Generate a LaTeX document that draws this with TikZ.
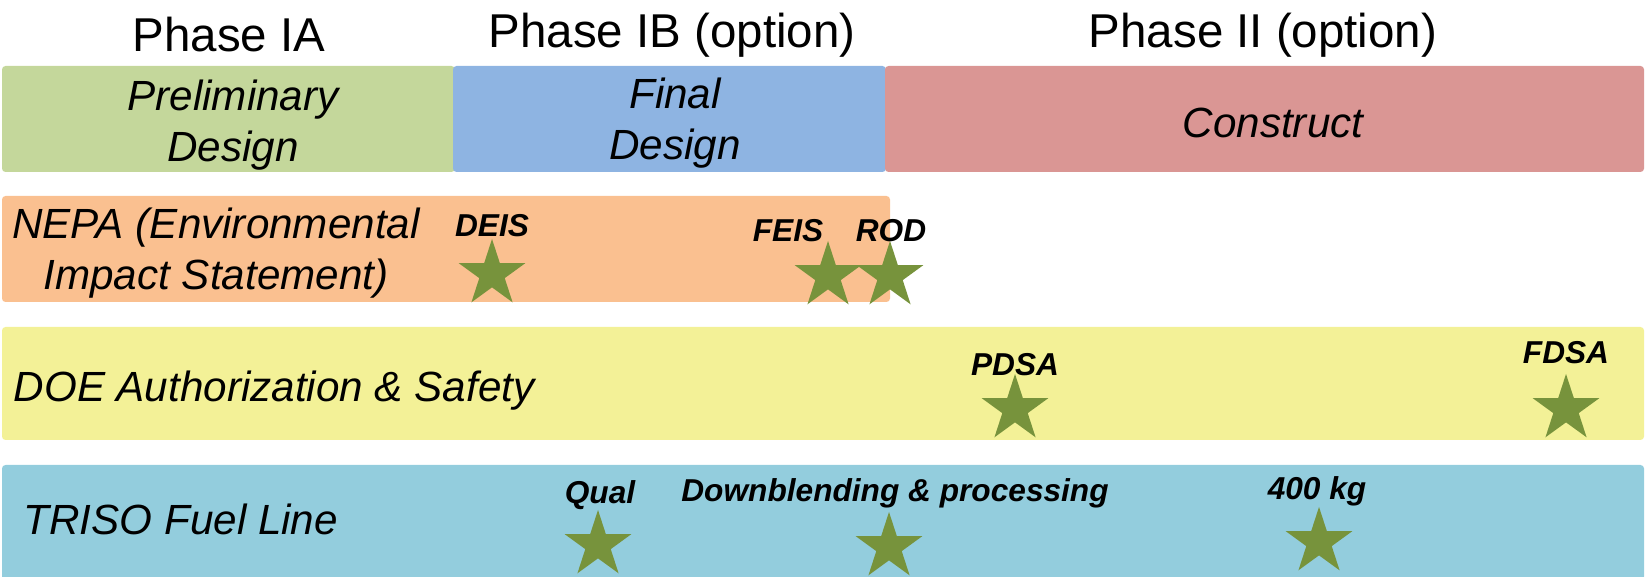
\documentclass[tikz,border=0pt]{standalone}
\usepackage{fontspec}
\setmainfont{Liberation Sans}
\usetikzlibrary{shapes.geometric,positioning}

\definecolor{prelimgreen}{HTML}{C4D79B}
\definecolor{finalblue}{HTML}{8EB4E2}
\definecolor{constructred}{HTML}{DA9694}
\definecolor{nepaorange}{HTML}{FAC090}
\definecolor{doeyellow}{HTML}{F3F197}
\definecolor{trisocyan}{HTML}{93CDDD}
\definecolor{stargreen}{HTML}{77933C}

\tikzset{
  bar/.style={rounded corners=1pt},
  phase/.style={font=\fontsize{13.5}{16}\selectfont},
  task/.style={font=\fontsize{12}{14.5}\selectfont\itshape, align=center},
  milestone/.style={star, star points=5, star point ratio=2.618, fill=stargreen,
    minimum size=0.7cm, inner sep=0pt},
  tag/.style={font=\fontsize{9}{11}\selectfont\bfseries\itshape},
}

\begin{document}
\begin{tikzpicture}[x=0.01cm,y=-0.01cm]
  \useasboundingbox (0,0) rectangle (1646,577);
  %phases
  \node[phase] (ph1) at (229,35) {Phase IA};
  \node[phase] (ph2) at (672,35) {Phase IB (option)};
  \node[phase] (ph3) at (1263,35) {Phase II (option)};

  %bars
  \fill[bar, prelimgreen] (2,66) rectangle (455,172);
  \fill[bar, finalblue] (453,66) rectangle (886,172);
  \fill[bar, constructred] (885,66) rectangle (1644,172);
  \fill[bar, nepaorange] (2,196) rectangle (890,302);
  \fill[bar, doeyellow] (2,327) rectangle (1644,440);
  \fill[bar, trisocyan] (2,465) rectangle (1644,580);

  %tasks
  \node[task] (prelim) at (233,125) {Preliminary\\Design};
  \node[task] (final) at (675,123) {Final\\Design};
  \node[task] (construct) at (1273,123) {Construct};
  \node[task] (nepa) at (216,253) {NEPA (Environmental\\Impact Statement)};
  \node[task, anchor=west, inner sep=0pt] (doe) at (13,391) {DOE Authorization \& Safety};
  \node[task, anchor=west, inner sep=0pt] (triso) at (23,519) {TRISO Fuel Line};

  %milestones
  \node[milestone] (deis) at (492,274) {};
  \node[milestone] (feis) at (828,276) {};
  \node[milestone] (rod) at (890,276) {};
  \node[milestone] (pdsa) at (1015,409) {};
  \node[milestone] (fdsa) at (1566,409) {};
  \node[milestone] (qual) at (598,545) {};
  \node[milestone] (blend) at (889,547) {};
  \node[milestone] (kg) at (1319,542) {};

  \node[tag] (deisl) at (492,226) {DEIS};
  \node[tag] (feisl) at (788,231) {FEIS};
  \node[tag] (rodl) at (891,231) {ROD};
  \node[tag] (pdsal) at (1015,365) {PDSA};
  \node[tag] (fdsal) at (1566,353) {FDSA};
  \node[tag] (quall) at (600,495) {Qual};
  \node[tag] (blendl) at (895,493) {Downblending \& processing};
  \node[tag] (kgl) at (1317,491) {400 kg};
\end{tikzpicture}
\end{document}
